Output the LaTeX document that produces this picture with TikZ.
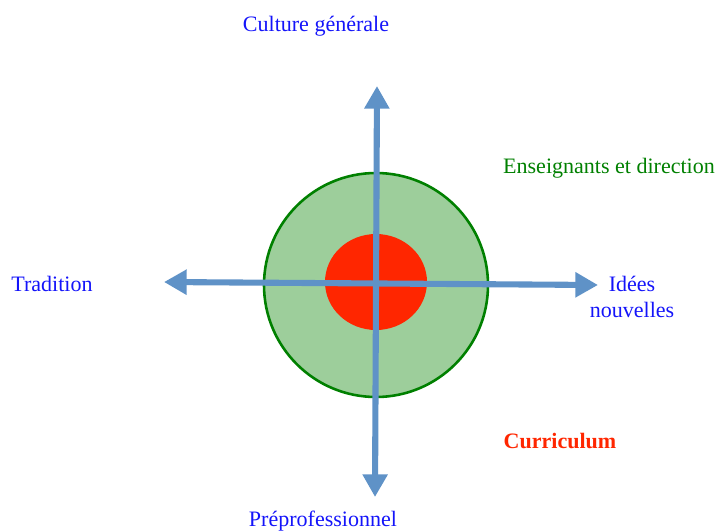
\documentclass[tikz,border=0pt]{standalone}
\usepackage{fontspec}
\setmainfont{Liberation Serif}
\usetikzlibrary{arrows.meta, positioning, shapes.geometric}
\definecolor{myblue}{RGB}{20,20,250}
\definecolor{mygreen}{RGB}{0,128,0}
\definecolor{lightgreen}{RGB}{157,206,155}
\definecolor{myred}{RGB}{255,38,0}
\definecolor{steel}{RGB}{95,146,199}

\begin{document}
\begin{tikzpicture}[x=0.03cm, y=-0.03cm,
    label/.style={font=\fontsize{18.8}{22.5}\selectfont, inner sep=0pt, align=center},
    axis/.style={draw=steel, line width=5.2pt, {Triangle[length=0.68cm, width=0.72cm]}-{Triangle[length=0.68cm, width=0.72cm]}}]
    \useasboundingbox (0,0) rectangle (718,532);

    % circles
    \node[circle, draw=mygreen, line width=2.2pt, fill=lightgreen, minimum size=6.72cm, inner sep=0pt] (outer) at (376,285) {};
    \node[ellipse, fill=myred, minimum width=3.06cm, minimum height=2.88cm, inner sep=0pt] (core) at (376,282) {};

    % axis ends
    \coordinate (top) at (377,86);
    \coordinate (bottom) at (375,497);
    \coordinate (left) at (164,282);
    \coordinate (right) at (598,285);

    % axes
    \draw[axis] (left) -- (right);
    \draw[axis] (top) -- (bottom);

    % labels
    \node[label, myblue] (culture) at (316,26) {Culture générale};
    \node[label, myblue] (prepro) at (323,521) {Préprofessionnel};
    \node[label, myblue] (tradition) at (52,284) {Tradition};
    \node[label, myblue] (idees) at (632,297) {Idées\\nouvelles};
    \node[label, mygreen] (staff) at (609,168) {Enseignants et direction};
    \node[label, myred, font=\fontsize{18.8}{22.5}\selectfont\bfseries] (curriculum) at (560,441) {Curriculum};
\end{tikzpicture}
\end{document}
